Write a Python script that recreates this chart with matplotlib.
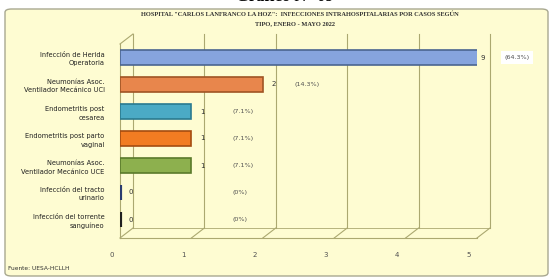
import numpy as np
import matplotlib.pyplot as plt
from matplotlib.patches import FancyBboxPatch
from matplotlib.transforms import ScaledTranslation

# data
categories = ["Infección de Herida\nOperatoria",
              "Neumonías Asoc.\nVentilador Mecánico UCI",
              "Endometritis post\ncesarea",
              "Endometritis post parto\nvaginal",
              "Neumonías Asoc.\nVentilador Mecánico UCE",
              "Infección del tracto\nurinario",
              "Infección del torrente\nsanguíneo"]
cases = [9, 2, 1, 1, 1, 0, 0]
percents = ["(64.3%)", "(14.3%)", "(7.1%)", "(7.1%)", "(7.1%)", "(0%)", "(0%)"]
ticks = [0, 1, 2, 3, 4, 5]

colors = ['#86A4DE', '#E8864C', '#4BAAC5', '#F27C22', '#8DB04E', '#4A6CB0', '#3A3A3A']
edges = ['#4A6590', '#A05424', '#2A7A90', '#A44C10', '#5A7A2A', '#2A3C70', '#202020']
pct_x = [5.56, 2.62, 1.72, 1.72, 1.72, 1.68, 1.68]   # label placement (layout)

W, H = 550, 278
fig = plt.figure(figsize=(W / 100, H / 100), dpi=100)
fig.patch.set_facecolor('white')

# yellow panel
panel = FancyBboxPatch((5 / W, 2 / H), 543 / W, 267 / H,
                       boxstyle="round,pad=0,rounding_size=0.012",
                       transform=fig.transFigure, facecolor='#FEFCD2',
                       edgecolor='#A8A890', lw=1.0, zorder=-5)
fig.patches.append(panel)

fig.text(285 / W, 1 + 3 / H, "Gráfico N° 09", ha='center', va='center',
         fontsize=12, family='Liberation Serif', fontweight='bold', color='black')

fig.text(300 / W, 1 - 14 / H,
         'HOSPITAL "CARLOS LANFRANCO LA HOZ":  INFECCIONES INTRAHOSPITALARIAS POR CASOS SEGÚN',
         ha='center', va='center', fontsize=4.6, family='Liberation Serif',
         fontweight='bold', color='#303030')
fig.text(295 / W, 1 - 24 / H, 'TIPO, ENERO - MAYO 2022',
         ha='center', va='center', fontsize=4.6, family='Liberation Serif',
         fontweight='bold', color='#303030')

fig.text(8 / W, 1 - 268 / H, "Fuente: UESA-HCLLH", ha='left', va='center',
         fontsize=4.2, color='#303030')

left, right, top, bot = 120, 477, 44, 238
ax = fig.add_axes([left / W, 1 - bot / H, (right - left) / W, (bot - top) / H])
ax.set_zorder(2)
ax.set_facecolor('none')
ax.set_xlim(0, 5)
ybot = -0.5 + (bot - top) / 27.0
ax.set_ylim(ybot, -0.5)
for s in ax.spines.values():
    s.set_visible(False)

dx, dy = 13 / 71.4, 10 / 27.0
gcol = '#ABA870'
# back wall grid lines and floor diagonals
for v in ticks:
    ax.plot([v + dx, v + dx], [ybot - dy, -0.5 - dy], color=gcol, lw=0.8,
            clip_on=False, zorder=1)
    ax.plot([v, v + dx], [ybot, ybot - dy], color=gcol, lw=0.8, clip_on=False, zorder=1)
ax.plot([0, 5], [ybot, ybot], color=gcol, lw=0.8, clip_on=False, zorder=1)
ax.plot([dx, 5 + dx], [ybot - dy, ybot - dy], color=gcol, lw=0.6, clip_on=False, zorder=1)
ax.plot([0, 0], [ybot, -0.5], color=gcol, lw=0.8, clip_on=False, zorder=1)
ax.plot([0, dx], [-0.5, -0.5 - dy], color=gcol, lw=0.8, clip_on=False, zorder=1)

y = np.arange(len(categories))
ax.barh(y, cases, height=0.55, color=colors, edgecolor=edges,
        lw=[1.2 if v else 3 for v in cases], zorder=3)

for i, (v, p) in enumerate(zip(cases, percents)):
    ax.text(min(v, 5) + (0.05 if v > 5 else 0.12), i, str(v), ha='left', va='center',
            fontsize=5, color='#303030', zorder=4, clip_on=False)
    bb = dict(boxstyle='square,pad=0.6', fc='white', ec='none') if i == 0 else None
    ax.text(pct_x[i], i, p, ha='center', va='center', fontsize=4.6,
            color='#505050', bbox=bb, zorder=4, clip_on=False)

ax.set_yticks(y)
ax.set_yticklabels(categories, fontsize=4.8, color='#202020', linespacing=1.5)
ax.tick_params(axis='y', length=0, pad=11)
ax.set_xticks(ticks)
ax.set_xticklabels([str(t) for t in ticks], fontsize=5, color='#505050')
ax.tick_params(axis='x', length=0, pad=10)
for lab in ax.get_xticklabels():
    lab.set_transform(lab.get_transform() + ScaledTranslation(-6 / 72, 0, fig.dpi_scale_trans))

fig.savefig('out.png', dpi=100)
